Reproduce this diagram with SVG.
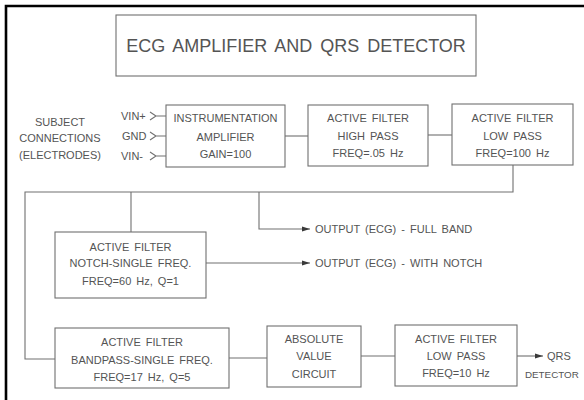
<svg xmlns="http://www.w3.org/2000/svg" width="584" height="400" viewBox="0 0 584 400">
  <defs>
    <marker id="arrow" markerUnits="userSpaceOnUse" markerWidth="9" markerHeight="6" refX="8" refY="3" orient="auto">
      <path d="M0,0.5 L8,3 L0,5.5 z" fill="#3a3a3a"/>
    </marker>
    <style>
      .box { fill: #ffffff; stroke: #707070; stroke-width: 1.1; }
      .wire { fill: none; stroke: #707070; stroke-width: 1.1; }
      .lbl { font-family: "Liberation Sans", Arial, sans-serif; font-size: 11px; fill: #545454; text-anchor: middle; word-spacing: 2px; }
      .lft { text-anchor: start; }
      .title { font-family: "Liberation Sans", Arial, sans-serif; font-size: 18px; fill: #545454; text-anchor: middle; word-spacing: 3px; }
    </style>
  </defs>

  <rect width="584" height="400" fill="#ffffff"/>

  <!-- page frame (top and left edges) -->
  <path d="M6,400 V6 H584" fill="none" stroke="#000000" stroke-width="2.6"/>

  <!-- title block -->
  <g id="title">
    <rect class="box" x="116" y="15" width="360" height="61"/>
    <text class="title" x="296" y="51.5">ECG AMPLIFIER AND QRS DETECTOR</text>
  </g>

  <!-- electrode inputs -->
  <g id="subject">
    <text class="lbl" x="60" y="126">SUBJECT</text>
    <text class="lbl" x="60" y="142">CONNECTIONS</text>
    <text class="lbl" x="60" y="159">(ELECTRODES)</text>
  </g>
  <g id="inputs">
    <text class="lbl lft" x="121" y="120">VIN+</text>
    <text class="lbl lft" x="122" y="140">GND</text>
    <text class="lbl lft" x="121" y="160">VIN-</text>
    <path class="wire" d="M150,112 L156,116 L150,120 M156,116 H166"/>
    <path class="wire" d="M150,132 L156,136 L150,140 M156,136 H166"/>
    <path class="wire" d="M150,152 L156,156 L150,160 M156,156 H166"/>
  </g>

  <g id="connectors">
    <path class="wire" d="M285,136 H308"/>
    <path class="wire" d="M428,135 H452"/>
    <path class="wire" d="M513,165 V192 H25 V359 H55"/>
    <path class="wire" d="M131,192 V232"/>
    <path class="wire" d="M259,192 V229 H310" marker-end="url(#arrow)"/>
    <path class="wire" d="M206,263 H310" marker-end="url(#arrow)"/>
    <path class="wire" d="M229,358 H267"/>
    <path class="wire" d="M361,356 H395"/>
    <path class="wire" d="M517,356 H543" marker-end="url(#arrow)"/>
  </g>

  <g id="inst-amp">
    <rect class="box" x="166" y="105" width="119" height="62"/>
    <text class="lbl" x="225.5" y="122">INSTRUMENTATION</text>
    <text class="lbl" x="225.5" y="141">AMPLIFIER</text>
    <text class="lbl" x="225.5" y="158">GAIN=100</text>
  </g>

  <g id="high-pass">
    <rect class="box" x="308" y="105" width="120" height="61"/>
    <text class="lbl" x="368" y="122">ACTIVE FILTER</text>
    <text class="lbl" x="368" y="140">HIGH PASS</text>
    <text class="lbl" x="368" y="157">FREQ=.05 Hz</text>
  </g>

  <g id="low-pass-100">
    <rect class="box" x="452" y="104" width="121" height="61"/>
    <text class="lbl" x="512.5" y="122">ACTIVE FILTER</text>
    <text class="lbl" x="512.5" y="140">LOW PASS</text>
    <text class="lbl" x="512.5" y="157">FREQ=100 Hz</text>
  </g>

  <g id="out-full">
    <text class="lbl lft" x="315" y="233">OUTPUT (ECG) - FULL BAND</text>
  </g>

  <g id="notch">
    <rect class="box" x="55" y="232" width="151" height="66"/>
    <text class="lbl" x="130.5" y="251">ACTIVE FILTER</text>
    <text class="lbl" x="130.5" y="267">NOTCH-SINGLE FREQ.</text>
    <text class="lbl" x="130.5" y="285">FREQ=60 Hz, Q=1</text>
  </g>

  <g id="out-notch">
    <text class="lbl lft" x="315" y="267">OUTPUT (ECG) - WITH NOTCH</text>
  </g>

  <g id="bandpass">
    <rect class="box" x="55" y="328" width="174" height="60"/>
    <text class="lbl" x="142" y="346">ACTIVE FILTER</text>
    <text class="lbl" x="142" y="364">BANDPASS-SINGLE FREQ.</text>
    <text class="lbl" x="142" y="381">FREQ=17 Hz, Q=5</text>
  </g>

  <g id="abs-value">
    <rect class="box" x="267" y="326" width="94" height="61"/>
    <text class="lbl" x="314" y="343">ABSOLUTE</text>
    <text class="lbl" x="314" y="360">VALUE</text>
    <text class="lbl" x="314" y="378">CIRCUIT</text>
  </g>

  <g id="low-pass-10">
    <rect class="box" x="395" y="325" width="122" height="61"/>
    <text class="lbl" x="456" y="343">ACTIVE FILTER</text>
    <text class="lbl" x="456" y="360">LOW PASS</text>
    <text class="lbl" x="456" y="377">FREQ=10 Hz</text>
  </g>

  <g id="qrs-out">
    <text class="lbl lft" x="547" y="360">QRS</text>
    <text class="lbl lft" x="525" y="378" style="font-size:9.8px">DETECTOR</text>
  </g>
</svg>
